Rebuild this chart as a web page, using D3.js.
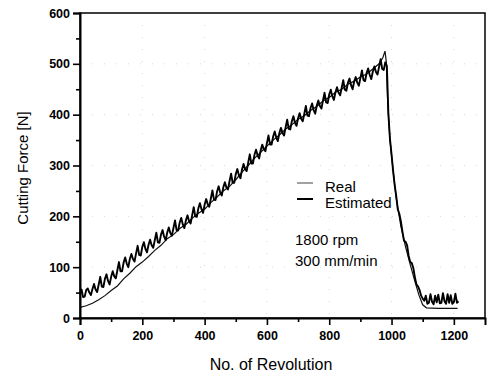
<!DOCTYPE html>
<html>
<head>
<meta charset="utf-8">
<script src="https://cdn.jsdelivr.net/npm/d3@7"></script>
<style>
  body { margin: 0; background: #fff; }
  svg { display: block; font-family: "Liberation Sans", Arial, sans-serif; }
</style>
</head>
<body>
<svg id="chart" width="488" height="377"></svg>
<script>
// revolution, force [N]
const real = [
  [0, 21], [20, 24], [40, 29], [60, 36], [80, 44], [100, 54], [120, 63], [140, 77],
  [160, 88], [180, 101], [200, 110], [220, 121], [240, 133], [260, 143], [280, 156],
  [300, 164], [320, 176], [340, 184], [360, 196], [380, 206], [400, 214], [420, 227],
  [440, 238], [460, 250], [480, 259], [500, 272], [520, 287], [540, 300], [560, 314],
  [580, 326], [600, 338], [620, 350], [640, 360], [660, 372], [680, 380], [700, 391],
  [720, 398], [740, 408], [760, 416], [780, 427], [800, 434], [820, 444], [840, 450],
  [860, 460], [880, 466], [900, 474], [920, 480], [940, 490], [960, 500], [972, 512],
  [979, 525], [983, 505], [988, 420], [995, 350], [1005, 290], [1015, 236], [1030, 180],
  [1045, 140], [1060, 105], [1075, 72], [1088, 45], [1100, 26], [1112, 20], [1150, 19],
  [1212, 19]
];

const estimated = [
  [0, 47], [5, 56], [10, 41], [15, 42], [20, 55], [25, 58], [30, 50], [35, 45], [40, 57],
  [45, 67], [50, 56], [55, 51], [60, 66], [65, 81], [70, 62], [75, 61], [80, 77], [85, 86],
  [90, 73], [95, 66], [100, 81], [105, 92], [110, 82], [115, 78], [120, 94], [125, 110],
  [130, 92], [135, 92], [140, 109], [145, 119], [150, 107], [155, 100], [160, 116],
  [165, 126], [170, 116], [175, 111], [180, 127], [185, 142], [190, 124], [195, 123],
  [200, 140], [205, 149], [210, 136], [215, 129], [220, 144], [225, 154], [230, 143],
  [235, 138], [240, 153], [245, 168], [250, 149], [255, 148], [260, 164], [265, 173],
  [270, 160], [275, 153], [280, 168], [285, 178], [290, 167], [295, 162], [300, 177],
  [305, 192], [310, 173], [315, 172], [320, 188], [325, 197], [330, 184], [335, 177],
  [340, 192], [345, 202], [350, 191], [355, 186], [360, 202], [365, 218], [370, 200],
  [375, 199], [380, 216], [385, 226], [390, 214], [395, 207], [400, 223], [405, 234],
  [410, 224], [415, 219], [420, 235], [425, 251], [430, 233], [435, 232], [440, 249],
  [445, 259], [450, 247], [455, 241], [460, 257], [465, 267], [470, 257], [475, 253],
  [480, 269], [485, 284], [490, 266], [495, 266], [500, 283], [505, 293], [510, 281],
  [515, 275], [520, 292], [525, 303], [530, 293], [535, 289], [540, 306], [545, 322],
  [550, 304], [555, 304], [560, 321], [565, 331], [570, 320], [575, 314], [580, 330],
  [585, 341], [590, 332], [595, 328], [600, 344], [605, 359], [610, 341], [615, 341],
  [620, 357], [625, 367], [630, 355], [635, 348], [640, 364], [645, 374], [650, 364],
  [655, 359], [660, 375], [665, 390], [670, 372], [675, 371], [680, 387], [685, 397],
  [690, 384], [695, 378], [700, 393], [705, 403], [710, 392], [715, 387], [720, 402],
  [725, 417], [730, 398], [735, 397], [740, 413], [745, 422], [750, 409], [755, 402],
  [760, 418], [765, 428], [770, 417], [775, 412], [780, 428], [785, 443], [790, 424],
  [795, 423], [800, 440], [805, 449], [810, 436], [815, 429], [820, 444], [825, 454],
  [830, 443], [835, 438], [840, 453], [845, 468], [850, 449], [855, 447], [860, 463],
  [865, 471], [870, 458], [875, 450], [880, 465], [885, 474], [890, 463], [895, 457],
  [900, 472], [905, 487], [910, 468], [915, 466], [920, 482], [925, 491], [930, 478],
  [935, 470], [940, 485], [945, 495], [950, 484], [955, 479], [960, 494], [965, 509],
  [970, 490], [975, 488], [980, 503], [985, 496], [990, 400], [995, 352], [1000, 322],
  [1005, 290], [1010, 262], [1015, 240], [1020, 214], [1025, 205], [1030, 190],
  [1035, 170], [1040, 152], [1045, 150], [1050, 143], [1055, 122], [1060, 110],
  [1065, 108], [1070, 98], [1075, 80], [1080, 66], [1085, 62], [1090, 55], [1095, 44],
  [1100, 38], [1105, 34], [1110, 44], [1115, 28], [1120, 30], [1125, 47], [1130, 32],
  [1135, 27], [1140, 44], [1145, 31], [1150, 46], [1155, 29], [1160, 30], [1165, 49],
  [1170, 33], [1175, 28], [1180, 47], [1185, 30], [1190, 45], [1195, 28], [1200, 31],
  [1205, 48], [1210, 30], [1215, 33]
];

const xTicks = [0, 200, 400, 600, 800, 1000, 1200];
const xMinor = [100, 300, 500, 700, 900, 1100];
const yTicks = [0, 100, 200, 300, 400, 500, 600];
const yMinor = [50, 150, 250, 350, 450, 550];
const notes = ['1800 rpm', '300 mm/min'];

const mLeft = 80, mRight = 485, mTop = 13, mBottom = 318;

const svg = d3.select('svg#chart');

const x = d3.scaleLinear().domain([0, 1300]).range([mLeft, mRight]);
const y = d3.scaleLinear().domain([0, 600]).range([mBottom, mTop]);

// faint dotted grid
const grid = svg.append('g').attr('stroke', '#d8d8d8').attr('stroke-width', 1)
  .attr('stroke-dasharray', '1,11');
grid.selectAll('line.h').data(yTicks.slice(1, -1)).join('line')
  .attr('x1', mLeft).attr('x2', mRight).attr('y1', d => y(d)).attr('y2', d => y(d));
grid.selectAll('line.v').data(xTicks.slice(1)).join('line')
  .attr('y1', mTop).attr('y2', mBottom).attr('x1', d => x(d)).attr('x2', d => x(d));

// curves
const line = d3.line().x(d => x(d[0])).y(d => y(d[1]));

svg.append('path')
  .datum(real)
  .attr('fill', 'none')
  .attr('stroke', '#111')
  .attr('stroke-width', 1.2)
  .attr('d', line);

svg.append('path')
  .datum(estimated)
  .attr('fill', 'none')
  .attr('stroke', '#000')
  .attr('stroke-width', 1.9)
  .attr('stroke-linejoin', 'round')
  .attr('d', line);

// frame
svg.append('rect')
  .attr('x', mLeft).attr('y', mTop)
  .attr('width', mRight - mLeft).attr('height', mBottom - mTop)
  .attr('fill', 'none').attr('stroke', '#000').attr('stroke-width', 1.5);

// x axis
svg.append('g')
  .attr('transform', 'translate(0,' + mBottom + ')')
  .call(d3.axisBottom(x).tickValues(xTicks).tickSize(7).tickPadding(6).tickFormat(d3.format('d')));
svg.append('g')
  .attr('transform', 'translate(0,' + mBottom + ')')
  .call(d3.axisBottom(x).tickValues(xMinor).tickSize(4).tickFormat(''))
  .call(g => g.select('.domain').remove());

// y axis
svg.append('g')
  .attr('transform', 'translate(' + mLeft + ',0)')
  .call(d3.axisLeft(y).tickValues(yTicks).tickSize(7).tickPadding(3));
svg.append('g')
  .attr('transform', 'translate(' + mLeft + ',0)')
  .call(d3.axisLeft(y).tickValues(yMinor).tickSize(4).tickFormat(''))
  .call(g => g.select('.domain').remove());

svg.selectAll('.domain').attr('stroke-width', 2);
svg.selectAll('.tick line').attr('stroke-width', 1.6);
svg.selectAll('.tick text')
  .attr('font-family', '"Liberation Sans", Arial, sans-serif')
  .attr('font-size', '12.5px')
  .attr('font-weight', 'bold')
  .attr('fill', '#000');

// axis titles
svg.append('text')
  .attr('x', 271).attr('y', 370)
  .attr('text-anchor', 'middle')
  .attr('font-size', '16px')
  .text('No. of Revolution');

svg.append('text')
  .attr('transform', 'translate(28,168) rotate(-90)')
  .attr('text-anchor', 'middle')
  .attr('font-size', '15px')
  .text('Cutting Force [N]');

// legend
const legend = [
  {name: 'Real', width: 1, color: '#444', ly: 183, ty: 192},
  {name: 'Estimated', width: 2, color: '#000', ly: 199, ty: 208}
];
const lg = svg.append('g');
lg.selectAll('line').data(legend).join('line')
  .attr('x1', 297).attr('x2', 313)
  .attr('y1', d => d.ly).attr('y2', d => d.ly)
  .attr('stroke', d => d.color).attr('stroke-width', d => d.width);
lg.selectAll('text').data(legend).join('text')
  .attr('x', 325).attr('y', d => d.ty)
  .attr('font-size', '15px')
  .text(d => d.name);

svg.append('g').selectAll('text').data(notes).join('text')
  .attr('x', 295).attr('y', (d, i) => 245 + i * 21)
  .attr('font-size', '15px')
  .text(d => d);
</script>
</body>
</html>
